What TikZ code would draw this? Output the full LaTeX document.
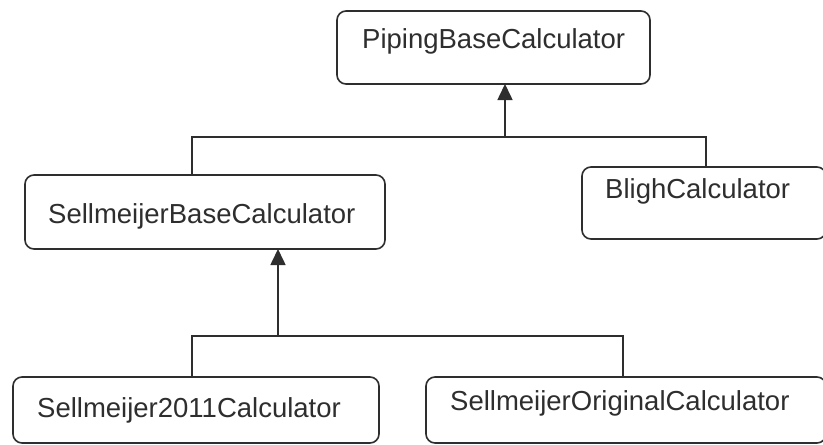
\documentclass[tikz,border=0pt]{standalone}
\usepackage{fontspec}
\setmainfont{Liberation Sans}
\usetikzlibrary{arrows.meta}
\definecolor{ink}{HTML}{2E2E2E}
\begin{document}
\begin{tikzpicture}[x=1pt,y=-1pt,
  classbox/.style={draw=ink, line width=1.6pt, rounded corners=9pt,
    inner sep=0pt, outer sep=0pt},
  classname/.style={anchor=base west, inner sep=0pt, text=ink,
    font=\fontsize{27.5}{33}\selectfont},
  link/.style={draw=ink, line width=1.6pt},
  inherit/.style={link, -{Triangle[width=15pt,length=16pt]}}]
  \useasboundingbox (0,0) rectangle (823,445);
  \fill[white] (0,0) rectangle (823,445);

  % class boxes
  \node[classbox, minimum width=313pt, minimum height=73pt] (piping) at (493.5,47.5) {};
  \node[classbox, minimum width=360pt, minimum height=74pt] (sbase) at (205,212) {};
  \node[classbox, minimum width=244pt, minimum height=72pt] (bligh) at (704,203) {};
  \node[classbox, minimum width=366pt, minimum height=66pt] (s2011) at (196,410) {};
  \node[classbox, minimum width=400pt, minimum height=66pt] (sorig) at (626,410) {};

  % class names
  \node[classname] (tpiping) at (362,48) {PipingBaseCalculator};
  \node[classname] (tsbase) at (48,223) {SellmeijerBaseCalculator};
  \node[classname] (tbligh) at (605,198) {BlighCalculator};
  \node[classname] (ts2011) at (37,417) {Sellmeijer2011Calculator};
  \node[classname] (tsorig) at (450,410) {SellmeijerOriginalCalculator};

  % generalisation: PipingBaseCalculator
  \coordinate (j1) at (505,137);
  \coordinate (d1) at (192,137);
  \coordinate (d2) at (706,137);
  \draw[link] (d1 |- sbase.north) -- (d1) -- (d2) -- (d2 |- bligh.north);
  \draw[inherit] (j1) -- (j1 |- piping.south);

  % generalisation: SellmeijerBaseCalculator
  \coordinate (j2) at (278,336);
  \coordinate (d3) at (192,336);
  \coordinate (d4) at (623,336);
  \draw[link] (d3 |- s2011.north) -- (d3) -- (d4) -- (d4 |- sorig.north);
  \draw[inherit] (j2) -- (j2 |- sbase.south);
\end{tikzpicture}
\end{document}
